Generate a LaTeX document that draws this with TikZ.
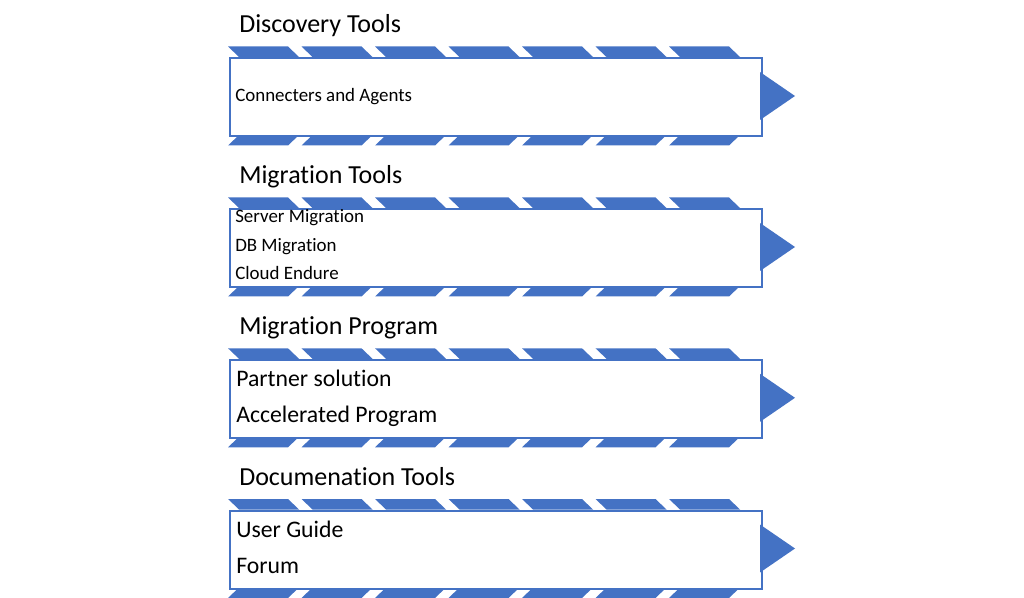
\documentclass[tikz,border=0pt]{standalone}
\usepackage{fontspec}
\setmainfont{Carlito}[Ligatures = {NoCommon, NoContextual}, Contextuals = NoAlternate, RawFeature = {-liga;-clig;-calt}]
\usetikzlibrary{positioning}
\definecolor{stripeblue}{HTML}{4472C4}
\tikzset{
  stripe/.style = {
    fill = stripeblue
  },
  tip/.style = {
    fill = stripeblue
  },
  panel/.style = {
    rectangle,
    draw = stripeblue,
    fill = white,
    line width = 1.5pt,
    anchor = north west,
    minimum width = 399pt,
    minimum height = 58.5pt,
    inner sep = 0pt
  },
  title/.style = {
    anchor = base west,
    inner sep = 0pt,
    font = \fontsize{19.5}{23}\selectfont
  },
  item/.style = {
    anchor = base west,
    inner sep = 0pt,
    font = \fontsize{14.2}{17}\selectfont
  },
  bigitem/.style = {
    item,
    font = \fontsize{17.8}{21}\selectfont
  },
}
% one striped arrow: name, top of the stripes, title
\newcommand{\stage}[3]{
  \foreach \k in {0,...,6} {
    \fill[stripe] ({228+73.5*\k}, #2) -- ++(60,0) -- ++(11,10.5) -- ++(-60,0) -- cycle;
    \fill[stripe] ({239+73.5*\k}, #2+88.5) -- ++(60,0) -- ++(-11,10.5) -- ++(-60,0) -- cycle;
  }
  \node[panel] (#1) at (229, #2+10.5) {};
  \fill[tip] (760, #2+25.5) -- (795, #2+49.5) -- (760, #2+73.5) -- cycle;
  \node[title] (#1-title) at (239, #2-14) {#3};
}

\begin{document}
\begin{tikzpicture}[x = 0.75pt, y = -0.75pt]
  \useasboundingbox (0,0) rectangle (1024,598);
  \stage{D}{46.5}{Discovery Tools}
  \stage{M}{197.5}{Migration Tools}
  \stage{P}{348.3}{Migration Program}
  \stage{U}{499}{Documenation Tools}
  \node[item] (D-1) at (235, 102) {Connecters and Agents};
  \node[item] (M-1) at (235, 223) {Server Migration};
  \node[item] (M-2) at (235, 252) {DB Migration};
  \node[item] (M-3) at (235, 280) {Cloud Endure};
  \node[bigitem] (P-1) at (236, 387) {Partner solution};
  \node[bigitem] (P-2) at (236, 422) {Accelerated Program};
  \node[bigitem] (U-1) at (236, 537) {User Guide};
  \node[bigitem] (U-2) at (236, 573) {Forum};
\end{tikzpicture}
\end{document}
